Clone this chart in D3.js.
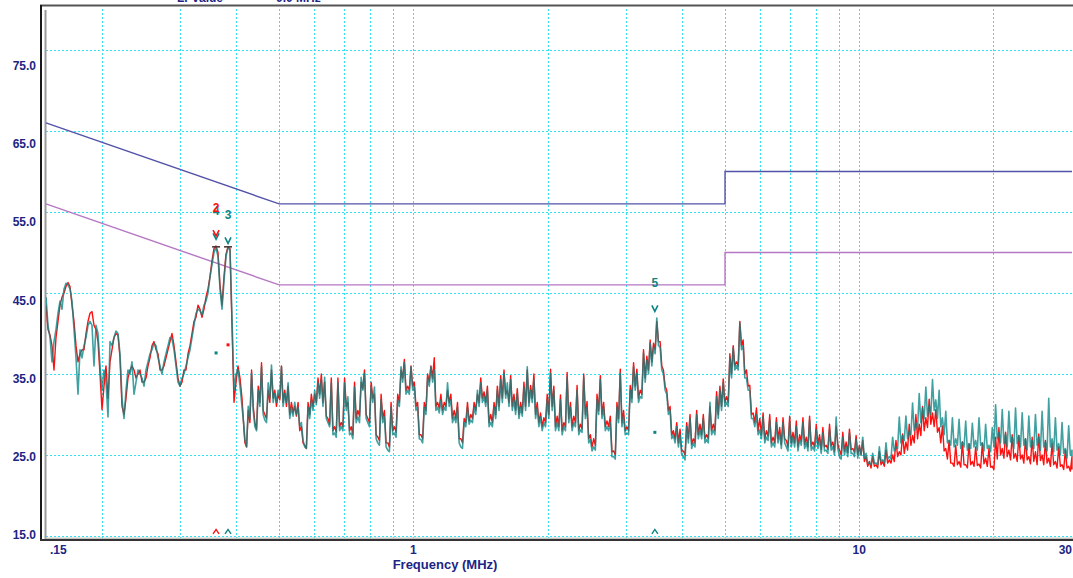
<!DOCTYPE html>
<html><head><meta charset="utf-8">
<script src="https://cdn.jsdelivr.net/npm/d3@7"></script>
<style>html,body{margin:0;padding:0;background:#fff;} svg{display:block;}</style>
</head><body>
<svg id="c" width="1073" height="578"></svg>
<script>
// ---------- data ----------
const yTicks = [15, 25, 35, 45, 55, 65, 75];
const yTickLabels = ["15.0", "25.0", "35.0", "45.0", "55.0", "65.0", "75.0"];
const xTickValues = [0.15, 1, 10, 30];
const xTickLabels = [".15", "1", "10", "30"];
const xGrid = [0.2, 0.3, 0.4, 0.5, 0.6, 0.7, 0.8, 0.9, 1, 2, 3, 4, 5, 6, 7, 8, 9, 10, 20];
const qpLimitF = [0.15, 0.5, 5, 5, 30];
const qpLimitV = [66, 56, 56, 60, 60];
const avLimitF = [0.15, 0.5, 5, 5, 30];
const avLimitV = [56, 46, 46, 50, 50];

// sweep bands (MHz)
const lowBand = [0.15, 0.417];
const highBand = [0.419, 30];

// low band: one reading per sweep point
const tealLow = [
44.5,41.0,39.5,36.5,39.0,40.5,42.5,44.0,43.0,45.5,
46.2,46.0,45.5,44.0,40.5,37.0,32.5,38.0,37.0,38.5,
39.5,41.0,41.5,41.0,36.0,41.0,40.0,36.0,33.0,35.5,
34.0,29.7,39.0,38.5,39.5,40.3,40.0,37.5,32.0,29.5,
33.0,35.5,35.0,36.5,32.5,34.0,35.5,35.0,34.5,33.5,
35.5,36.5,37.5,38.0,38.8,38.5,37.0,36.0,35.0,36.5,
37.5,38.5,39.5,39.3,38.0,36.0,34.0,33.5,34.5,35.0,
36.0,37.0,38.0,39.5,41.0,42.5,43.0,42.8,42.3,43.5,
44.0,45.0,47.0,48.5,50.0,50.6,49.5,45.5,43.0,46.5,
49.5,50.6,50.3,42.0,33.0,35.0,35.5,33.5,31.0,28.5];

const redLow = [
43.5,40.5,39.8,38.5,35.5,39.5,41.5,43.5,44.5,45.0,
45.8,46.3,45.8,43.5,41.5,38.5,36.5,37.5,38.0,38.0,
40.0,41.5,42.5,42.7,41.0,40.5,39.0,35.0,30.6,33.5,
36.0,32.0,36.5,38.0,39.5,40.0,39.8,37.0,31.0,30.0,
32.0,34.5,35.5,36.0,35.5,34.5,35.0,35.5,34.0,34.0,
34.5,36.0,37.0,38.5,39.0,38.0,37.5,35.5,35.5,36.0,
37.0,38.0,39.0,40.0,38.5,36.5,34.5,33.5,34.0,35.5,
35.5,37.5,38.5,40.0,41.5,42.0,43.5,43.0,42.0,43.0,
44.5,45.5,47.0,49.0,50.5,50.8,50.0,46.0,43.5,47.0,
49.8,50.7,50.5,41.0,31.5,34.0,36.0,34.5,32.0,28.0];

// high band: max and min reading per sweep bucket
const tealHighMax = [
26.9,31.0,35.1,28.5,33.0,35.9,29.3,33.9,36.1,32.6,
33.0,35.9,32.6,33.9,30.9,31.5,30.9,29.0,26.0,30.9,
31.8,33.0,33.9,34.3,34.6,29.0,33.9,27.7,33.9,28.5,
33.9,32.2,27.7,33.4,29.7,34.6,35.1,29.0,33.4,33.4,
26.5,31.8,29.7,25.6,30.9,27.7,31.8,35.9,36.4,33.0,
35.9,33.4,30.9,26.9,30.9,34.6,35.9,35.5,30.9,31.8,
30.9,33.9,31.8,29.7,30.9,26.0,29.0,30.9,29.3,30.9,
33.0,33.9,32.2,33.0,29.0,30.9,33.0,34.3,35.1,33.9,
34.3,31.8,32.6,30.9,33.4,35.9,33.0,34.3,30.9,29.7,
29.0,31.8,35.1,33.0,29.0,31.8,28.5,34.6,30.9,29.0,
33.0,28.1,34.6,30.9,26.9,26.0,31.8,34.3,30.9,28.5,
29.0,24.8,30.9,35.1,29.7,27.7,33.0,35.9,35.1,32.2,
37.6,36.7,38.8,38.3,41.9,38.3,35.0,32.5,30.5,27.5,
28.5,27.5,24.8,28.5,29.5,26.5,30.0,28.1,29.5,26.9,
31.5,28.1,32.2,33.0,33.9,31.5,37.0,38.2,36.0,41.3,
38.5,34.5,33.0,29.5,30.0,28.1,29.7,27.2,29.3,26.5,
29.0,27.7,29.0,26.0,29.0,27.2,28.5,26.9,29.0,26.5,
29.3,26.0,28.1,26.9,27.7,25.6,28.1,26.0,29.7,24.8,
27.2,26.0,27.7,25.2,26.9,26.0,27.2,25.2,24.0,25.2,
24.0,26.0,24.4,26.5,24.8,27.2,26.0,29.7,27.4,29.8,
28.0,31.4,29.0,32.6,30.8,33.4,31.2,34.3,31.8,33.0,
29.6,30.4,26.8,29.6,27.0,29.4,26.6,29.2,26.4,28.9,
26.8,29.6,26.5,28.8,26.2,28.4,31.2,27.8,30.6,27.6,
30.4,27.2,30.8,27.4,30.2,27.0,29.8,26.8,30.0,27.2,
30.4,26.6,32.0,27.0,29.6,26.4,29.0,25.8,28.6,25.6];

const tealHighMin = [
26.0,29.5,30.5,28.0,31.0,30.0,29.0,32.0,31.5,31.5,
32.0,31.0,31.5,29.5,29.8,30.0,28.5,26.8,25.8,29.5,
30.5,31.2,32.0,31.0,29.5,28.5,27.5,27.2,28.0,28.0,
30.5,27.5,27.0,29.0,29.0,33.0,29.5,28.5,31.5,27.0,
26.2,29.0,26.0,25.4,27.5,27.2,31.0,34.0,32.5,32.5,
33.0,30.5,27.0,26.5,30.0,33.5,34.0,30.5,30.2,30.0,
30.5,31.0,29.0,29.0,26.5,25.8,28.5,28.8,29.0,30.0,
31.0,31.5,31.0,28.5,28.5,29.5,30.5,31.5,32.0,31.0,
30.5,30.0,29.5,29.8,30.5,31.0,31.5,29.5,28.5,28.0,
28.5,29.5,30.5,28.0,28.0,27.5,28.0,29.0,28.0,28.5,
27.5,27.8,29.5,26.5,25.5,25.6,30.0,29.5,28.0,28.0,
24.8,24.5,29.0,28.5,27.5,27.5,31.5,33.0,31.5,32.0,
34.0,35.0,36.0,37.5,38.5,35.5,33.0,30.0,27.0,26.5,
26.0,25.0,24.4,26.5,25.8,26.0,27.0,27.0,26.5,26.5,
27.5,27.5,29.5,30.5,31.0,31.0,34.5,35.5,35.5,38.0,
34.5,33.0,29.5,28.5,27.5,27.0,26.5,26.8,26.0,26.0,
26.5,25.8,26.5,25.5,26.0,26.0,25.5,26.2,25.8,25.5,
25.6,25.5,25.8,25.2,25.5,25.2,25.6,25.0,25.8,24.5,
25.0,24.8,25.2,24.8,24.6,25.0,24.6,24.0,23.8,24.0,
23.8,24.2,24.0,24.5,24.5,25.5,25.8,26.5,26.8,27.0,
27.5,28.0,28.2,29.0,29.5,29.8,30.0,30.5,29.5,28.5,
27.5,26.5,26.2,26.0,26.2,25.8,26.0,25.6,25.8,26.0,
25.6,26.2,25.5,25.8,25.4,26.0,27.0,26.5,26.4,26.0,
26.6,25.8,26.4,26.0,26.2,25.6,26.0,25.8,26.2,25.6,
26.0,25.5,26.0,25.4,25.6,25.0,25.2,24.6,25.0,24.8];

const redHighMax = [
26.5,30.5,35.5,29.0,33.5,36.4,30.0,33.0,35.5,33.0,
32.5,36.0,33.0,33.5,31.5,31.0,31.5,28.5,26.2,31.5,
32.5,32.5,34.5,35.0,34.0,29.5,34.5,28.5,34.5,29.0,
34.5,31.5,28.5,34.0,30.5,34.0,35.5,29.5,34.0,32.5,
27.2,32.5,30.5,26.5,31.5,28.5,32.5,35.5,36.8,33.5,
36.0,34.0,31.5,27.5,31.5,35.0,36.0,37.0,31.5,32.5,
31.5,33.0,32.5,30.5,31.5,27.0,29.5,31.5,30.0,31.5,
32.5,34.5,32.8,33.5,30.0,31.5,33.5,34.8,35.5,33.0,
34.8,32.5,33.2,31.5,34.0,35.5,33.6,35.0,31.5,30.2,
29.6,32.5,35.6,33.5,29.8,32.4,29.0,35.2,31.5,29.8,
33.6,28.8,35.0,31.6,27.5,27.0,32.5,34.8,31.5,29.2,
29.8,25.5,31.5,35.6,30.5,28.5,33.6,36.4,35.6,33.0,
38.0,37.2,39.2,38.8,41.5,39.0,35.5,33.0,31.0,28.0,
29.0,28.2,25.5,29.0,30.0,27.0,30.5,28.8,30.0,27.5,
31.0,28.8,32.8,33.5,34.4,32.2,37.5,38.5,36.5,41.5,
39.2,35.5,33.6,30.2,30.8,29.5,30.2,28.0,30.0,27.2,
29.6,28.4,29.6,26.8,29.8,27.8,29.2,27.5,29.6,27.2,
29.8,26.6,28.8,27.5,28.4,26.2,28.8,26.6,28.5,25.6,
27.8,26.6,28.2,25.8,27.4,26.2,26.8,24.8,24.2,24.8,
23.8,25.4,24.2,25.6,24.4,25.0,26.8,25.4,27.6,26.6,
28.8,27.4,30.0,28.8,31.0,29.6,31.9,30.2,30.6,28.4,
28.6,25.8,26.8,24.0,26.2,24.2,26.6,23.8,26.4,24.2,
26.0,23.9,26.5,24.6,25.8,23.6,27.2,28.4,25.8,27.8,
25.6,27.5,25.2,27.4,25.0,27.0,24.8,27.2,25.4,27.6,
25.0,26.8,24.6,26.4,24.2,26.0,23.8,25.6,23.6,24.8];

const redHighMin = [
26.0,29.0,31.0,28.2,31.5,30.5,29.5,31.5,32.0,31.0,
31.8,31.5,31.0,30.0,30.2,29.8,28.0,26.5,25.8,30.0,
31.0,31.5,32.5,31.5,29.8,28.8,28.0,27.8,28.5,28.5,
31.0,28.0,27.5,29.5,29.8,33.2,30.0,29.0,32.0,27.5,
26.8,29.5,26.5,26.0,28.0,27.8,31.5,34.5,33.0,33.0,
33.5,31.0,27.5,27.0,30.5,34.0,34.5,31.0,30.8,30.5,
31.0,31.5,29.5,29.5,27.0,26.5,29.0,29.2,29.5,30.5,
31.5,32.0,31.5,29.0,29.0,30.0,31.0,32.0,32.5,31.5,
31.0,30.5,30.0,30.2,31.0,31.5,32.0,30.0,29.0,28.5,
29.0,30.0,31.0,28.5,28.5,28.0,28.5,29.5,28.5,29.0,
28.0,28.2,30.0,27.0,26.0,26.2,30.5,30.0,28.5,28.5,
25.4,25.0,29.5,29.0,28.0,28.0,32.0,33.5,32.0,32.5,
34.5,35.5,36.5,38.0,39.0,36.0,33.5,30.5,27.5,27.0,
26.5,25.5,25.0,27.0,26.3,26.5,27.5,27.5,27.0,27.0,
28.0,28.0,30.0,31.0,31.5,31.5,35.0,36.0,36.0,38.5,
35.0,33.5,30.0,29.0,28.0,27.5,27.0,27.3,26.5,26.5,
27.0,26.3,27.0,26.0,26.5,26.5,26.0,26.7,26.3,26.0,
26.1,26.0,26.3,25.7,26.0,25.7,26.1,25.5,26.3,25.0,
25.5,25.3,25.7,25.3,25.1,25.0,24.2,23.6,23.4,23.6,
23.4,23.8,23.6,24.0,24.0,24.2,24.8,25.0,25.2,25.6,
26.2,26.5,27.0,27.4,28.0,28.4,28.8,28.5,27.8,26.5,
25.5,24.5,24.0,23.6,23.8,23.5,23.8,23.4,23.8,23.6,
23.7,23.4,23.9,23.6,23.5,23.2,24.5,25.0,24.6,24.8,
24.4,24.6,24.2,24.5,24.0,24.4,23.9,24.2,23.8,24.3,
23.8,24.0,23.6,23.8,23.4,23.6,23.2,23.4,23.0,23.2];

// markers and readings
const markerLabels = ["2", "4", "3", "5"];
const markerFreq = [0.361, 0.361, 0.384, 3.48];
const markerLevel = [52.4, 52.0, 51.5, 43.1];
const markerTrace = ["red", "teal", "teal", "teal"];
const qpReadFreq = [0.361, 0.384];
const qpReadLevel = [50.7, 50.7];
const avReadFreq = [0.361, 0.384, 3.48];
const avReadLevel = [37.6, 38.6, 27.8];
const avReadTrace = ["teal", "red", "teal"];
const baseMarkFreq = [0.361, 0.384, 3.48];
const baseMarkTrace = ["red", "teal", "teal"];
const legendTexts = ["Lr value", "0.0 MHz"];

// ---------- drawing ----------
const svg = d3.select("#c");
const colors = { red: "#ff1010", teal: "#0b8585" };
const navy = "#1c2484";
const x = d3.scaleLog().domain([0.15, 30]).range([46, 1072]);
const y = d3.scaleLinear().domain([15, 75]).range([536, 50]);
const yLab = d3.scaleLinear().domain([15, 75]).range([535, 66]);
const plotTop = 7, plotBottom = 538;

svg.append("defs").append("clipPath").attr("id", "clip")
  .append("rect").attr("x", 46).attr("y", plotTop).attr("width", 1027).attr("height", plotBottom - plotTop);

// partially visible legend at the top edge
svg.append("g").selectAll("text").data(legendTexts).join("text")
  .attr("x", (d, i) => [177, 276][i]).attr("y", 2)
  .attr("font-family", "Arial, Liberation Sans, sans-serif").attr("font-weight", "bold")
  .attr("font-size", 12).attr("fill", navy).text(d => d);

// grid
const grid = svg.append("g").attr("stroke", "#2fe3ef").attr("stroke-width", 1).attr("stroke-dasharray", "2,2");
grid.selectAll("line.h").data(yTicks).join("line").attr("class", "h")
  .attr("x1", 46).attr("x2", 1073).attr("y1", d => Math.round(y(d)) + 0.5).attr("y2", d => Math.round(y(d)) + 0.5);
grid.selectAll("line.v").data(xGrid).join("line").attr("class", "v")
  .attr("x1", d => Math.round(x(d)) + 0.5).attr("x2", d => Math.round(x(d)) + 0.5)
  .attr("y1", 9).attr("y2", plotBottom);

// frame
const frame = svg.append("g");
frame.append("line").attr("x1", 40).attr("x2", 1073).attr("y1", 5.5).attr("y2", 5.5).attr("stroke", "#555").attr("stroke-width", 2);
frame.append("line").attr("x1", 41).attr("x2", 41).attr("y1", 5).attr("y2", 541).attr("stroke", "#1a1a1a").attr("stroke-width", 2);
frame.append("line").attr("x1", 45.5).attr("x2", 45.5).attr("y1", 10).attr("y2", 539).attr("stroke", "#9a9a9a").attr("stroke-width", 2);
frame.append("line").attr("x1", 40).attr("x2", 1073).attr("y1", 540).attr("y2", 540).attr("stroke", "#333").attr("stroke-width", 2);
frame.append("line").attr("x1", 45).attr("x2", 1073).attr("y1", 538.2).attr("y2", 538.2).attr("stroke", "#aaa").attr("stroke-width", 1);

// limit lines
const limLine = d3.line().x(d => x(d[0])).y(d => y(d[1]));
svg.append("path").datum(qpLimitF.map((f, i) => [f, qpLimitV[i]]))
  .attr("d", limLine).attr("fill", "none").attr("stroke", "#5252a8").attr("stroke-width", 1.4);
svg.append("path").datum(avLimitF.map((f, i) => [f, avLimitV[i]]))
  .attr("d", limLine).attr("fill", "none").attr("stroke", "#b577c4").attr("stroke-width", 1.4);

// traces
function sweepFreqs(band, n) {
  return d3.range(n).map(i => band[0] * Math.pow(band[1] / band[0], i / (n - 1)));
}
function lowPoints(vals) {
  const fs = sweepFreqs(lowBand, vals.length);
  return vals.map((v, i) => [fs[i], v]);
}
function highPoints(maxV, minV) {
  const fs = sweepFreqs(highBand, maxV.length);
  const pts = [];
  maxV.forEach((v, i) => {
    pts.push([fs[i], v]);
    if (i < maxV.length - 1) pts.push([Math.sqrt(fs[i] * fs[i + 1]), minV[i]]);
    else pts.push([fs[i], minV[i]]);
  });
  return pts;
}
const redData = lowPoints(redLow).concat(highPoints(redHighMax, redHighMin));
const tealData = lowPoints(tealLow).concat(highPoints(tealHighMax, tealHighMin));
const tr = d3.line().x(d => x(d[0])).y(d => y(d[1]));
const traces = svg.append("g").attr("clip-path", "url(#clip)");
traces.append("path").datum(redData).attr("d", tr).attr("fill", "none")
  .attr("stroke", colors.red).attr("stroke-width", 1.4).attr("stroke-linejoin", "round");
traces.append("path").datum(tealData).attr("d", tr).attr("fill", "none")
  .attr("stroke", colors.teal).attr("stroke-width", 1.6).attr("stroke-opacity", 0.78).attr("stroke-linejoin", "round");

// markers
const mk = svg.append("g");
const order = [1, 2, 3, 0];
order.forEach(i => {
  const mx = x(markerFreq[i]), my = y(markerLevel[i]);
  mk.append("path").attr("d", `M${mx - 3},${my - 3}L${mx},${my + 3}L${mx + 3},${my - 3}`)
    .attr("fill", "none").attr("stroke", colors[markerTrace[i]]).attr("stroke-width", 1.6);
});
order.forEach(i => {
  const mx = x(markerFreq[i]), my = y(markerLevel[i]);
  mk.append("text").attr("x", mx).attr("y", my - 25).attr("text-anchor", "middle")
    .attr("dominant-baseline", "central").attr("font-family", "Arial, Liberation Sans, sans-serif")
    .attr("font-weight", "bold").attr("font-size", 12).attr("fill", colors[markerTrace[i]]).text(markerLabels[i]);
});
qpReadFreq.forEach((f, i) => {
  mk.append("line").attr("x1", x(f) - 4).attr("x2", x(f) + 4).attr("y1", y(qpReadLevel[i])).attr("y2", y(qpReadLevel[i]))
    .attr("stroke", "#4a3a3a").attr("stroke-width", 1.6);
});
avReadFreq.forEach((f, i) => {
  mk.append("rect").attr("x", x(f) - 1.5).attr("y", y(avReadLevel[i]) - 1.5).attr("width", 3).attr("height", 3)
    .attr("fill", colors[avReadTrace[i]]);
});
baseMarkFreq.forEach((f, i) => {
  const bx = x(f), by = y(15.5);
  mk.append("path").attr("d", `M${bx - 3},${by + 2}L${bx},${by - 2.5}L${bx + 3},${by + 2}`)
    .attr("fill", "none").attr("stroke", colors[baseMarkTrace[i]]).attr("stroke-width", 1.4);
});

// axis labels
const lab = svg.append("g").attr("font-family", "Arial, Liberation Sans, sans-serif")
  .attr("font-weight", "bold").attr("font-size", 12).attr("fill", navy);
lab.selectAll("text.y").data(yTicks).join("text").attr("class", "y")
  .attr("x", 36).attr("y", d => yLab(d)).attr("text-anchor", "end").attr("dominant-baseline", "central")
  .text((d, i) => yTickLabels[i]);
lab.selectAll("text.x").data(xTickValues).join("text").attr("class", "x")
  .attr("x", (d, i) => i === 0 ? x(d) + 4 : x(d))
  .attr("y", 554)
  .attr("text-anchor", (d, i) => i === 0 ? "start" : (i === xTickValues.length - 1 ? "end" : "middle"))
  .text((d, i) => xTickLabels[i]);
lab.append("text").attr("x", 445).attr("y", 569).attr("text-anchor", "middle").attr("font-size", 13)
  .text("Frequency (MHz)");
</script>
</body></html>
